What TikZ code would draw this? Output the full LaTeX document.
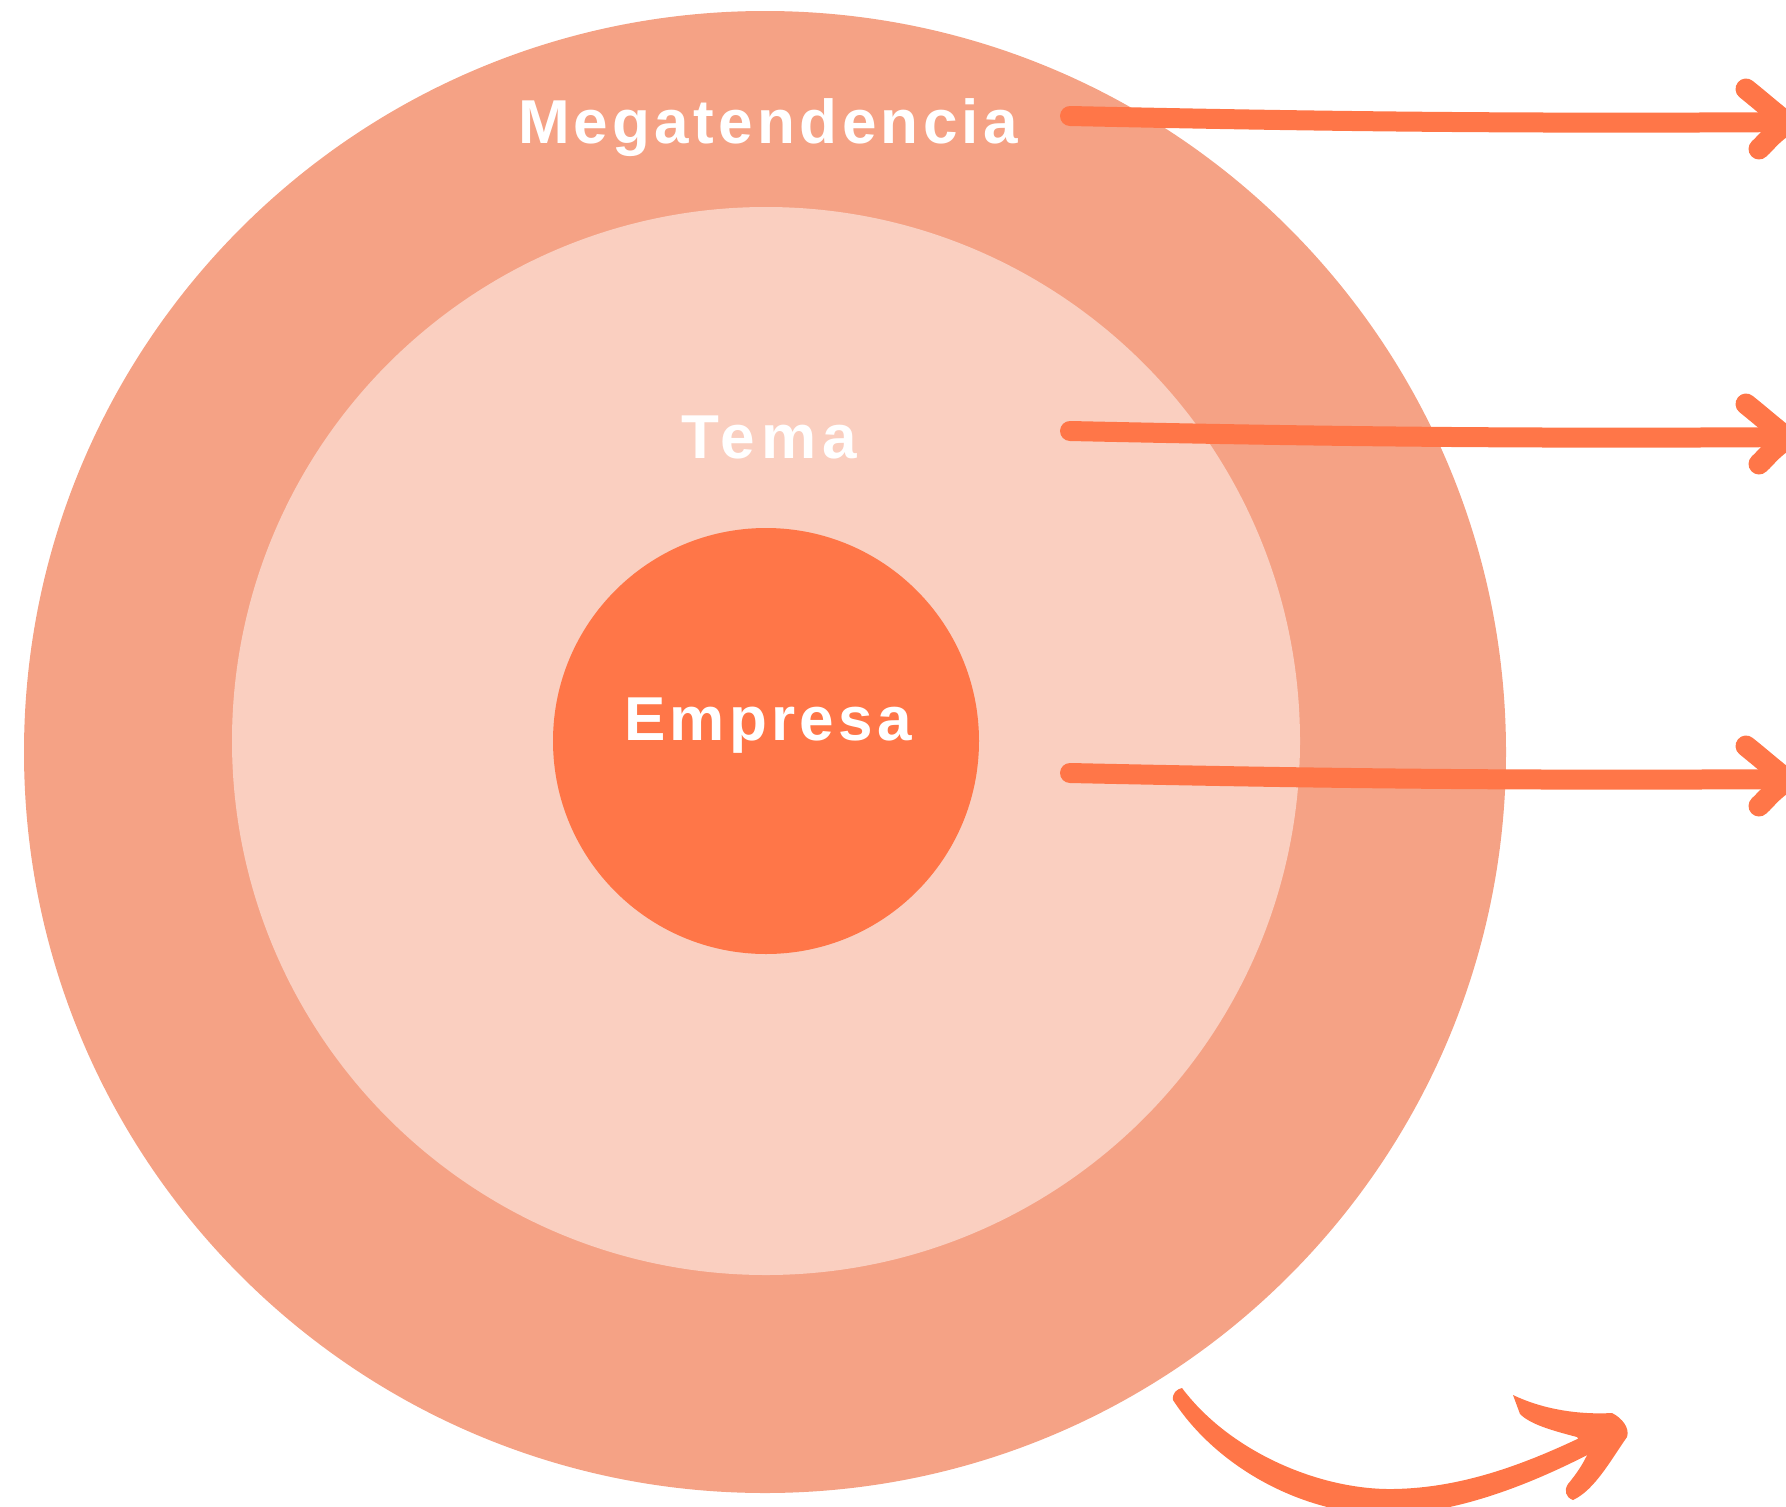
\documentclass[tikz,border=0pt]{standalone}
\usepackage{fontspec}
\newfontfamily\lbl{Liberation Sans}[LetterSpace=7]
\newfontfamily\lblw{Liberation Sans}[LetterSpace=10]
\definecolor{outerc}{RGB}{245,162,133}
\definecolor{midc}{RGB}{250,207,192}
\definecolor{innc}{RGB}{255,118,72}
\tikzset{
  lab/.style={text=white,font=\lbl\bfseries\fontsize{62}{62}\selectfont,inner sep=0pt,anchor=base},
  labw/.style={lab,font=\lblw\bfseries\fontsize{62}{62}\selectfont},
  arr/.style={draw=innc,line width=20pt,line cap=round,line join=round},
  barb/.style={draw=innc,line width=21pt,line cap=round,line join=round},
}
\begin{document}
\begin{tikzpicture}[x=1pt,y=-1pt]
\useasboundingbox (0,0) rectangle (1786,1507);
\clip (0,0) rectangle (1786,1507);
\fill[outerc] (765,752) circle (741);
\fill[midc] (766,741) circle (534);
\fill[innc] (766,741) circle (213);
\node[lab] (mega) at (768,143) {Megatendencia};
\node[labw] (tema) at (769,458) {Tema};
\node[lab] (emp) at (768,740) {Empresa};
% straight arrows
\foreach \dy/\nm in {0/a,315/b,657/c}{
  \begin{scope}[yshift=-\dy pt]
    \coordinate (\nm s) at (1070,116);
    \coordinate (\nm e) at (1800,122);
    \draw[arr] (\nm s) .. controls (1300,121) and (1500,124) .. (\nm e);
    \draw[barb] (1746,89) .. controls (1766,105) and (1780,118) .. (1800,132);
    \draw[barb] (1759,149) .. controls (1768,141) and (1772,132) .. (1800,116);
  \end{scope}
}
% bottom curved arrow
\coordinate (cs) at (1182,1388);
\coordinate (ce) at (1590,1433);
\fill[innc] (cs) .. controls (1230,1452) and (1320,1490) .. (1393,1489)
  .. controls (1465,1488) and (1530,1462) .. (ce)
  -- (1597,1450)
  .. controls (1530,1485) and (1460,1512) .. (1390,1515)
  .. controls (1300,1515) and (1215,1465) .. (1173,1400)
  .. controls (1172,1393) and (1177,1389) .. (cs) -- cycle;
\fill[innc] (1513,1395) .. controls (1540,1408) and (1575,1415) .. (1612,1413)
  .. controls (1622,1418) and (1630,1428) .. (1627,1437)
  .. controls (1612,1458) and (1595,1490) .. (1573,1500)
  .. controls (1565,1497) and (1564,1490) .. (1568,1484)
  .. controls (1578,1472) and (1584,1462) .. (1588,1453)
  -- (1577,1437)
  .. controls (1550,1430) and (1530,1424) .. (1520,1414) -- cycle;
\end{tikzpicture}
\end{document}
